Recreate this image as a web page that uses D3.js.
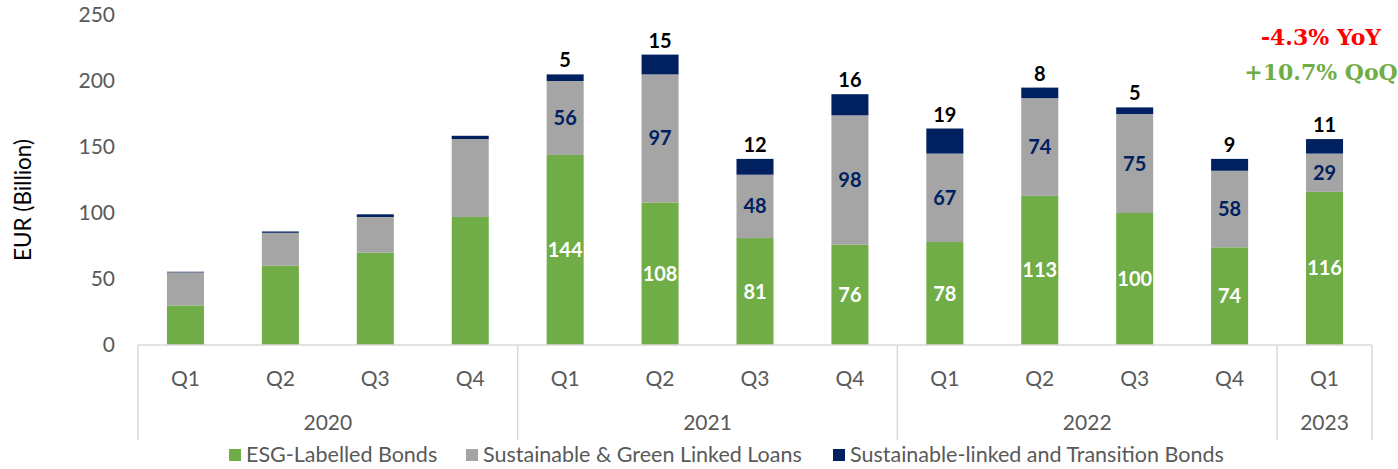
<!DOCTYPE html>
<meta charset="utf-8">
<title>esg-issuance</title>
<style>
body { margin: 0; background: #fff; }
text { font-family: Lato, "Open Sans", sans-serif; }
</style>
<body>
<script src="https://cdn.jsdelivr.net/npm/d3@7"></script>
<script>
var width = 1398, height = 469;

// data
var years = ["2020", "2020", "2020", "2020", "2021", "2021", "2021", "2021", "2022", "2022", "2022", "2022", "2023"];
var quarters = ["Q1", "Q2", "Q3", "Q4", "Q1", "Q2", "Q3", "Q4", "Q1", "Q2", "Q3", "Q4", "Q1"];
var esgBonds = [30, 60, 70, 97, 144, 108, 81, 76, 78, 113, 100, 74, 116];
var linkedLoans = [25, 25, 27, 59, 56, 97, 48, 98, 67, 74, 75, 58, 29];
var transitionBonds = [0.5, 1, 2, 2.5, 5, 15, 12, 16, 19, 8, 5, 9, 11];
var showLabels = [false, false, false, false, true, true, true, true, true, true, true, true, true];
var seriesNames = ["ESG-Labelled Bonds", "Sustainable & Green Linked Loans", "Sustainable-linked and Transition Bonds"];
var colors = ["#70ad47", "#a5a5a5", "#002060"];
var yTicks = [0, 50, 100, 150, 200, 250];

var margin = {top: 15, left: 138, right: 26, bottom: 124};
var plotW = width - margin.left - margin.right;
var plotH = height - margin.top - margin.bottom;

var svg = d3.select('body').append('svg')
    .attr('width', width)
    .attr('height', height);

var rows = quarters.map(function(q, i) {
  return {i: i, q: q, year: years[i], esg: esgBonds[i], loans: linkedLoans[i], trans: transitionBonds[i]};
});

var x = d3.scaleBand()
    .domain(d3.range(rows.length))
    .range([margin.left, margin.left + plotW])
    .paddingInner(0.61)
    .paddingOuter(0.305);

var y = d3.scaleLinear()
    .domain([0, 250])
    .range([margin.top + plotH, margin.top]);

var stack = d3.stack().keys(["esg", "loans", "trans"]);
var layers = stack(rows);

var g = svg.append('g');
g.selectAll('g.layer')
    .data(layers)
  .enter().append('g')
    .attr('class', 'layer')
    .attr('fill', function(d, k) { return colors[k]; })
  .selectAll('rect')
    .data(function(d) { return d; })
  .enter().append('rect')
    .attr('x', function(d) { return x(d.data.i); })
    .attr('width', x.bandwidth())
    .attr('y', function(d) { return y(d[1]); })
    .attr('height', function(d) { return y(d[0]) - y(d[1]); });

// y axis (no line, no ticks)
var yAxis = d3.axisLeft(y).tickValues(yTicks).tickSize(0).tickPadding(0);
var ya = svg.append('g')
    .attr('transform', 'translate(' + (margin.left - 23) + ',0)')
    .call(yAxis);
ya.select('.domain').remove();
ya.selectAll('text')
    .style('font-family', 'Lato, sans-serif')
    .style('font-size', '21px')
    .attr('fill', '#595959');

svg.append('text')
    .attr('transform', 'translate(31,' + (margin.top + plotH / 2 + 20) + ') rotate(-90)')
    .attr('text-anchor', 'middle')
    .attr('fill', '#000')
    .style('font-size', '22.5px')
    .text('EUR (Billion)');

// category axis
var axisY = y(0);
var step = x.step();
svg.append('line')
    .attr('x1', margin.left).attr('x2', margin.left + plotW)
    .attr('y1', axisY).attr('y2', axisY)
    .attr('stroke', '#d9d9d9').attr('stroke-width', 1.5);

var bounds = [0];
years.forEach(function(yr, i) { if (i > 0 && yr !== years[i - 1]) bounds.push(i); });
bounds.push(years.length);
bounds.forEach(function(b) {
  var bx = margin.left + b * step;
  svg.append('line')
      .attr('x1', bx).attr('x2', bx)
      .attr('y1', axisY).attr('y2', axisY + 95)
      .attr('stroke', '#d9d9d9').attr('stroke-width', 1.5);
});

svg.selectAll('text.quarter')
    .data(rows)
  .enter().append('text')
    .attr('class', 'quarter')
    .attr('x', function(d) { return x(d.i) + x.bandwidth() / 2; })
    .attr('y', axisY + 41)
    .attr('text-anchor', 'middle')
    .attr('fill', '#595959')
    .style('font-size', '21px')
    .text(function(d) { return d.q; });

var yearGroups = d3.range(bounds.length - 1).map(function(k) {
  return {year: years[bounds[k]], a: bounds[k], b: bounds[k + 1]};
});
svg.selectAll('text.year')
    .data(yearGroups)
  .enter().append('text')
    .attr('class', 'year')
    .attr('x', function(d) { return margin.left + (d.a + d.b) / 2 * step; })
    .attr('y', axisY + 85)
    .attr('text-anchor', 'middle')
    .attr('fill', '#595959')
    .style('font-size', '21px')
    .text(function(d) { return d.year; });

// data labels
var labelled = rows.filter(function(d) { return showLabels[d.i]; });
var cx = function(d) { return x(d.i) + x.bandwidth() / 2; };
svg.selectAll('text.lab-esg')
    .data(labelled)
  .enter().append('text')
    .attr('x', cx)
    .attr('y', function(d) { return y(d.esg / 2) + 7; })
    .attr('text-anchor', 'middle')
    .attr('fill', '#fff')
    .style('font-weight', 'bold')
    .style('font-size', '20px')
    .text(function(d) { return d.esg; });
svg.selectAll('text.lab-loans')
    .data(labelled)
  .enter().append('text')
    .attr('x', cx)
    .attr('y', function(d) { return y(d.esg + d.loans / 2) + 7; })
    .attr('text-anchor', 'middle')
    .attr('fill', '#002060')
    .style('font-weight', 'bold')
    .style('font-size', '20px')
    .text(function(d) { return d.loans; });
svg.selectAll('text.lab-trans')
    .data(labelled)
  .enter().append('text')
    .attr('x', cx)
    .attr('y', function(d) { return y(d.esg + d.loans + d.trans) - 7; })
    .attr('text-anchor', 'middle')
    .attr('fill', '#000')
    .style('font-weight', 'bold')
    .style('font-size', '20px')
    .text(function(d) { return d.trans; });

// growth notes
svg.append('text')
    .attr('x', 1321).attr('y', 45)
    .attr('text-anchor', 'middle')
    .attr('fill', '#ff0000')
    .style('font-family', '"DejaVu Serif", serif')
    .style('font-weight', 'bold')
    .style('font-size', '22px')
    .text('-4.3% YoY');
svg.append('text')
    .attr('x', 1321).attr('y', 80)
    .attr('text-anchor', 'middle')
    .attr('fill', '#70ad47')
    .style('font-family', '"DejaVu Serif", serif')
    .style('font-weight', 'bold')
    .style('font-size', '22px')
    .text('+10.7% QoQ');

// legend
var legendX = [229, 466, 833];
var leg = svg.selectAll('g.legend')
    .data(seriesNames)
  .enter().append('g')
    .attr('class', 'legend')
    .attr('transform', function(d, k) { return 'translate(' + legendX[k] + ',' + 449 + ')'; });
leg.append('rect')
    .attr('width', 12).attr('height', 12)
    .attr('fill', function(d, k) { return colors[k]; });
leg.append('text')
    .attr('x', 17).attr('y', 13)
    .attr('fill', '#595959')
    .style('font-size', '21.5px')
    .text(function(d) { return d; });
</script>
